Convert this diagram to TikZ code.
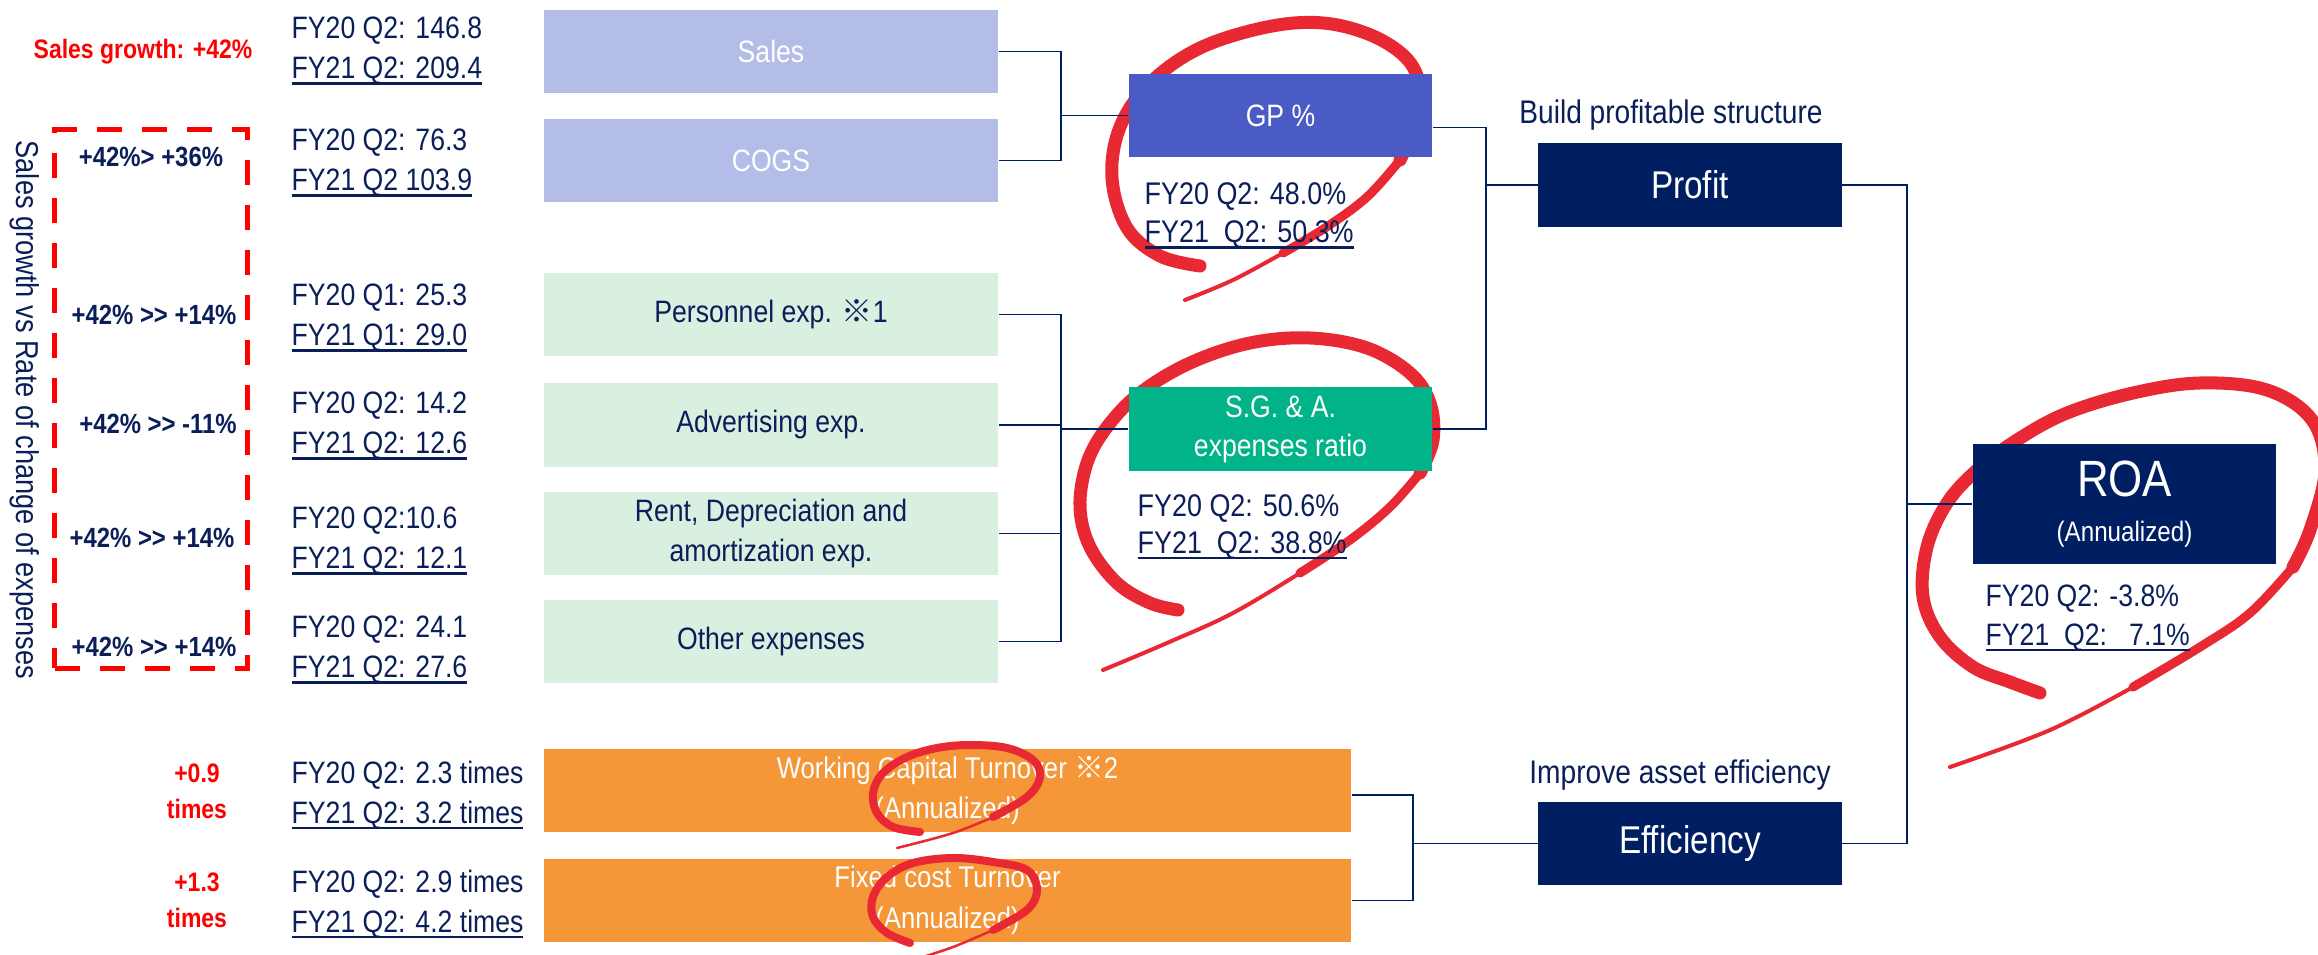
\documentclass[tikz,border=0pt]{standalone}
\usepackage{fontspec}
\setmainfont{Liberation Sans}[FakeStretch=0.86]
\newfontfamily\cjk{Noto Sans CJK JP}
\usepackage{tikz}
\usetikzlibrary{positioning}

\definecolor{navy}{RGB}{0,30,98}
\definecolor{ink}{RGB}{10,30,90}
\definecolor{lavender}{RGB}{180,188,232}
\definecolor{mint}{RGB}{217,239,223}
\definecolor{gpblue}{RGB}{74,91,198}
\definecolor{sgagreen}{RGB}{0,179,136}
\definecolor{turnover}{RGB}{245,150,56}
\definecolor{markred}{RGB}{232,40,50}
\definecolor{alert}{RGB}{255,0,0}

\pgfdeclarelayer{background}
\pgfsetlayers{background,main}

\newcommand{\ulined}[1]{\setbox0\hbox{#1}\rlap{\copy0}\raisebox{-1.6pt}{\rule{\wd0}{0.6pt}}}
\newcommand{\twolines}[2]{#1\\\ulined{#2}}
\newcommand{\refmark}{{\cjk ※}}
\newcommand{\dbl}{>\kern0pt>}

\begin{document}
\begin{tikzpicture}[x=0.01cm, y=-0.01cm, text=ink, font=\fontsize{8.8}{11.4}\selectfont,
   box/.style={minimum width=4.54cm, minimum height=0.83cm, inner sep=0pt, align=center},
   item/.style={box, fill=lavender, text=white},
   cost/.style={box, fill=mint},
   turn/.style={box, minimum width=8.07cm, fill=turnover, text=white, font=\fontsize{8.5}{11.6}\selectfont},
   ratio/.style={box, minimum width=3.03cm, text=white, font=\fontsize{8.8}{11.1}\selectfont},
   goal/.style={ratio, fill=navy, font=\fontsize{11}{13}\selectfont},
   vals/.style={anchor=west, align=left, inner sep=0pt},
   delta/.style={align=center, inner sep=0pt, font=\bfseries\fontsize{7.9}{9}\selectfont},
   alertlbl/.style={delta, text=alert, font=\bfseries\fontsize{7.6}{10.2}\selectfont},
   note/.style={inner sep=0pt, font=\fontsize{9.3}{11}\selectfont},
   wire/.style={draw=navy, line width=0.5pt},
   redpen/.style={draw=markred, line cap=round, line join=round}]
   \useasboundingbox (0,0) rectangle (2318,955);

   \node[item] (sales) at (771,51.5)  {Sales};
   \node[item] (cogs)  at (771,160.5) {COGS};
   \node[cost] (pers)  at (771,314.5) {Personnel exp. \refmark1};
   \node[cost] (adv)   at (771,425)   {Advertising exp.};
   \node[cost] (rent)  at (771,533.5) {Rent, Depreciation and\\amortization exp.};
   \node[cost] (other) at (771,641.5) {Other expenses};
   \node[turn] (wc)    at (947.5,790.5) {Working Capital Turnover \refmark2\\(Annualized)};
   \node[turn] (fc)    at (947.5,900.5) {Fixed cost Turnover\\(Annualized)};

   \node[ratio, fill=gpblue]   (gp)  at (1280.5,115.5) {GP \%};
   \node[ratio, fill=sgagreen] (sga) at (1280.5,429)   {S.G. \& A.\\expenses ratio};
   \node[goal] (profit) at (1690,185)   {Profit};
   \node[goal] (eff)    at (1690,843.5) {Efficiency};
   \node[goal, minimum height=1.2cm] (roa) at (2124.5,504)
      {\fontsize{14.5}{10.5}\selectfont ROA\\{\fontsize{8}{9}\selectfont (Annualized)}};

   \node[note] (n_profit) at (1671,115) {Build profitable structure};
   \node[note] (n_eff)    at (1680,775) {Improve asset efficiency};

   \node[vals] (v_sales) at (291,51)  {\twolines{FY20 Q2: 146.8}{FY21 Q2: 209.4}};
   \node[vals] (v_cogs)  at (291,163) {\twolines{FY20 Q2: 76.3}{FY21 Q2 103.9}};
   \node[vals] (v_pers)  at (291,318) {\twolines{FY20 Q1: 25.3}{FY21 Q1: 29.0}};
   \node[vals] (v_adv)   at (291,426) {\twolines{FY20 Q2: 14.2}{FY21 Q2: 12.6}};
   \node[vals] (v_rent)  at (291,541) {\twolines{FY20 Q2:10.6}{FY21 Q2: 12.1}};
   \node[vals] (v_other) at (291,650) {\twolines{FY20 Q2: 24.1}{FY21 Q2: 27.6}};
   \node[vals] (v_wc)    at (291,795) {\twolines{FY20 Q2: 2.3 times}{FY21 Q2: 3.2 times}};
   \node[vals] (v_fc)    at (291,904) {\twolines{FY20 Q2: 2.9 times}{FY21 Q2: 4.2 times}};
   \node[vals, font=\fontsize{8.9}{10.8}\selectfont] (v_gp)  at (1144,216) {\twolines{FY20 Q2: 48.0\%}{FY21~~Q2: 50.3\%}};
   \node[vals, font=\fontsize{8.9}{10.4}\selectfont] (v_sga) at (1137,527) {\twolines{FY20 Q2: 50.6\%}{FY21~~Q2: 38.8\%}};
   \node[vals, font=\fontsize{8.8}{11.1}\selectfont] (v_roa) at (1985,618) {\twolines{FY20 Q2: -3.8\%}{FY21~~Q2:~~~7.1\%}};

   \node[alertlbl] (g_sales) at (143,52)  {Sales growth: +42\%};
   \node[alertlbl] (g_wc)    at (197,791) {+0.9\\times};
   \node[alertlbl] (g_fc)    at (197,900) {+1.3\\times};

   \node[draw=alert, line width=0.05cm, dash pattern=on 0.25cm off 0.2cm,
         minimum width=1.92cm, minimum height=5.38cm] (frame) at (151,399) {};
   \node[delta] (d_cogs)  at (151,157) {+42\%> +36\%};
   \node[delta] (d_pers)  at (154,315) {+42\% \dbl{} +14\%};
   \node[delta] (d_adv)   at (158,424) {+42\% \dbl{} -11\%};
   \node[delta] (d_rent)  at (152,538) {+42\% \dbl{} +14\%};
   \node[delta] (d_other) at (154,647) {+42\% \dbl{} +14\%};
   \node[rotate=-90, inner sep=0pt, font=\fontsize{9}{11}\selectfont] (axis) at (25,410)
      {Sales growth vs Rate of change of expenses};

   \coordinate (j_gp)  at (1061,0);
   \coordinate (j_pr)  at (1486,0);
   \coordinate (j_roa) at (1907,0);
   \coordinate (j_eff) at (1413,0);

   \draw[wire] (sales.east) -| (j_gp |- cogs) -- (cogs.east);
   \draw[wire] (j_gp |- gp) -- (gp.west);
   \draw[wire] (pers.east) -| (j_gp |- other) -- (other.east);
   \draw[wire] (adv.east) -- (j_gp |- adv);
   \draw[wire] (rent.east) -- (j_gp |- rent);
   \draw[wire] (j_gp |- sga) -- (sga.west);
   \draw[wire] ([yshift=-0.12cm]gp.east) -| (j_pr |- sga) -- (sga.east);
   \draw[wire] (j_pr |- profit) -- (profit.west);
   \draw[wire] (profit.east) -| (j_roa |- eff) -- (eff.east);
   \draw[wire] (j_roa |- roa) -- (roa.west);
   \draw[wire] ([yshift=-0.045cm]wc.east) -| (j_eff |- fc) -- (fc.east);
   \draw[wire] (j_eff |- eff) -- (eff.west);

   \begin{pgfonlayer}{background}
   \draw[redpen, line width=0.13cm] plot[smooth, tension=0.6] coordinates {(1200,266) (1160,256) (1127,228) (1112,178) (1120,127) (1150,83) (1200,48) (1267,27) (1323,23) (1373,36) (1408,60) (1420,90) (1415,125) (1400,160)};
   \draw[redpen, line width=0.09cm] plot[smooth, tension=0.6] coordinates {(1400,160) (1367,197) (1325,228) (1283,253)};
   \draw[redpen, line width=0.04cm] plot[smooth, tension=0.6] coordinates {(1283,253) (1233,280) (1185,300)};

   \draw[redpen, line width=0.13cm] plot[smooth, tension=0.6] coordinates {(1178,610) (1150,603) (1117,583) (1090,547) (1080,507) (1087,463) (1107,427) (1140,393) (1190,363) (1250,343) (1310,338) (1367,348) (1410,373) (1430,403) (1433,440) (1420,473)};
   \draw[redpen, line width=0.09cm] plot[smooth, tension=0.6] coordinates {(1420,473) (1390,507) (1350,540) (1300,573)};
   \draw[redpen, line width=0.04cm] plot[smooth, tension=0.6] coordinates {(1300,573) (1233,613) (1167,643) (1103,670)};

   \draw[redpen, line width=0.13cm] plot[smooth, tension=0.6] coordinates {(2040,693) (2010,682) (1973,667) (1940,637) (1923,597) (1927,547) (1947,503) (1977,470) (2017,440) (2067,413) (2133,393) (2200,383) (2267,390) (2312,420) (2325,470) (2310,530) (2293,567)};
   \draw[redpen, line width=0.09cm] plot[smooth, tension=0.6] coordinates {(2293,567) (2250,613) (2200,647) (2133,687)};
   \draw[redpen, line width=0.04cm] plot[smooth, tension=0.6] coordinates {(2133,687) (2050,730) (1950,767)};
   \end{pgfonlayer}

   \draw[redpen, line width=0.08cm] plot[smooth, tension=0.6] coordinates {(920,832) (893,827) (877,813) (873,793) (883,773) (907,757) (937,748) (970,745) (1007,748) (1033,760) (1040,777) (1027,797) (993,817)};
   \draw[redpen, line width=0.025cm] plot[smooth, tension=0.6] coordinates {(993,817) (953,833) (897,848)};
   \draw[redpen, line width=0.08cm] plot[smooth, tension=0.6] coordinates {(910,943) (887,933) (873,917) (873,897) (887,877) (913,863) (953,858) (993,862) (1027,870) (1037,890) (1027,910) (993,930)};
   \draw[redpen, line width=0.025cm] plot[smooth, tension=0.6] coordinates {(993,930) (953,947) (913,960)};
\end{tikzpicture}
\end{document}
